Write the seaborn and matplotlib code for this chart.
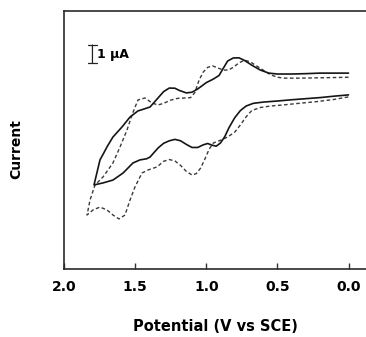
import numpy as np
import pandas as pd
import matplotlib
matplotlib.use("Agg")
import matplotlib.pyplot as plt
import seaborn as sns

# ---- data (potential in V vs SCE, current in microamps, arbitrary offset) ----
solid_upper_V = [1.789, 1.77, 1.747, 1.72, 1.698, 1.656, 1.592, 1.536, 1.48, 1.44, 1.395, 1.339, 1.30, 1.26, 1.22,
                 1.19, 1.14, 1.10, 1.06, 1.00, 0.95, 0.91, 0.88, 0.85, 0.81, 0.77, 0.73, 0.68, 0.62,
                 0.56, 0.50, 0.40, 0.30, 0.20, 0.10, 0.00]
solid_upper_I = [4.67, 5.3, 6.06, 6.45, 6.78, 7.33, 7.89, 8.44, 8.78, 8.88, 9.0, 9.5, 9.85, 10.05, 10.04,
                 9.92, 9.78, 9.82, 10.0, 10.35, 10.55, 10.75, 11.15, 11.55, 11.72, 11.73, 11.58, 11.32, 11.05,
                 10.88, 10.83, 10.83, 10.85, 10.88, 10.88, 10.88]

solid_lower_V = [1.789, 1.726, 1.656, 1.585, 1.515, 1.466, 1.42, 1.395, 1.339, 1.30, 1.26, 1.22, 1.18,
                 1.14, 1.10, 1.06, 1.02, 0.99, 0.96, 0.93, 0.90, 0.87, 0.84, 0.80, 0.76, 0.72, 0.67,
                 0.60, 0.50, 0.40, 0.30, 0.20, 0.10, 0.00]
solid_lower_I = [4.67, 4.78, 4.94, 5.33, 5.89, 6.06, 6.12, 6.22, 6.72, 6.98, 7.12, 7.2, 7.12,
                 6.92, 6.75, 6.75, 6.9, 6.97, 6.88, 6.82, 7.0, 7.35, 7.85, 8.4, 8.8, 9.05, 9.2,
                 9.27, 9.33, 9.40, 9.46, 9.52, 9.6, 9.67]

dashed_upper_V = [1.838, 1.817, 1.782, 1.726, 1.656, 1.606, 1.557, 1.522, 1.48, 1.431, 1.381, 1.339, 1.30,
                  1.25, 1.20, 1.15, 1.11, 1.08, 1.05, 1.02, 0.99, 0.955, 0.92, 0.88, 0.845, 0.81, 0.77,
                  0.73, 0.69, 0.65, 0.60, 0.55, 0.50, 0.45, 0.35, 0.20, 0.00]
dashed_upper_I = [3.0, 3.83, 4.67, 5.11, 5.89, 6.78, 7.72, 8.56, 9.39, 9.5, 9.22, 9.11, 9.2,
                  9.38, 9.48, 9.5, 9.52, 9.8, 10.5, 10.95, 11.2, 11.28, 11.17, 11.05, 11.05, 11.2, 11.45,
                  11.6, 11.5, 11.3, 11.05, 10.8, 10.65, 10.6, 10.6, 10.62, 10.65]

dashed_lower_V = [1.838, 1.796, 1.747, 1.698, 1.656, 1.613, 1.571, 1.536, 1.501, 1.452, 1.409, 1.346,
                  1.30, 1.26, 1.22, 1.18, 1.14, 1.10, 1.07, 1.04, 1.01, 0.98, 0.95, 0.90, 0.85,
                  0.80, 0.76, 0.72, 0.68, 0.62, 0.55, 0.45, 0.35, 0.22, 0.10, 0.00]
dashed_lower_I = [3.0, 3.28, 3.44, 3.28, 3.0, 2.78, 3.0, 3.83, 4.56, 5.33, 5.5, 5.67,
                  5.98, 6.08, 6.0, 5.75, 5.42, 5.22, 5.3, 5.6, 6.1, 6.65, 7.0, 7.15, 7.33,
                  7.6, 8.0, 8.45, 8.8, 8.97, 9.05, 9.12, 9.2, 9.3, 9.42, 9.56]

x_ticks = [2.0, 1.5, 1.0, 0.5, 0.0]
x_tick_labels = ["2.0", "1.5", "1.0", "0.5", "0.0"]
scale_bar_uA = 1.0
scale_bar_V = 1.80
scale_bar_bottom = 11.44

sns.set_theme(style="white")
plt.rcParams["font.family"] = ["DejaVu Sans"]
plt.rcParams["font.weight"] = "bold"
plt.rcParams["text.color"] = "black"
plt.rcParams["axes.labelcolor"] = "black"
plt.rcParams["xtick.color"] = "black"

fig = plt.figure(figsize=(3.66, 3.37), dpi=100)
ax = fig.add_axes([64 / 366, 1 - 269 / 337, 1 - 64 / 366, (269 - 11) / 337])

def branch_df(v_up, i_up, v_lo, i_lo):
    v = list(reversed(v_up)) + v_lo[1:]
    i = list(reversed(i_up)) + i_lo[1:]
    return pd.DataFrame({"V": v, "I": i, "order": range(len(v))})

df_solid = branch_df(solid_upper_V, solid_upper_I, solid_lower_V, solid_lower_I)
df_dashed = branch_df(dashed_upper_V, dashed_upper_I, dashed_lower_V, dashed_lower_I)

sns.lineplot(data=df_dashed, x="V", y="I", sort=False, estimator=None, ax=ax,
             color="#3a3a3a", linewidth=1.0, linestyle=(0, (2.6, 1.8)))
sns.lineplot(data=df_solid, x="V", y="I", sort=False, estimator=None, ax=ax,
             color="#151515", linewidth=1.2)

# scale bar
ax.annotate("", xy=(scale_bar_V, scale_bar_bottom), xytext=(scale_bar_V, scale_bar_bottom + scale_bar_uA),
            arrowprops=dict(arrowstyle="|-|,widthA=0.25,widthB=0.25", color="#222222", lw=0.9,
                            shrinkA=0, shrinkB=0))
ax.text(scale_bar_V - 0.033, scale_bar_bottom + scale_bar_uA / 2, "1 \u03bcA",
        fontsize=9, fontweight="bold", va="center", ha="left", color="black")

ax.set_xlim(2.0, -0.123)
ax.set_ylim(0, 14.33)
ax.set_xticks(x_ticks)
ax.set_xticklabels(x_tick_labels, fontsize=10, fontweight="bold", color="black")
ax.set_yticks([])
ax.tick_params(axis="x", direction="in", length=4, width=1, color="#333333", pad=8, bottom=True)

for side in ["left", "bottom", "top"]:
    ax.spines[side].set_visible(True)
    ax.spines[side].set_color("#2a2a2a")
    ax.spines[side].set_linewidth(1.2)
ax.spines["right"].set_visible(False)

ax.set_xlabel("Potential (V vs SCE)", fontsize=10.5, fontweight="bold", labelpad=18, color="black")
ax.set_ylabel("Current", fontsize=10, fontweight="bold", color="black")
ax.yaxis.set_label_coords(-0.135, 0.465)

fig.savefig("out.png", dpi=100)
